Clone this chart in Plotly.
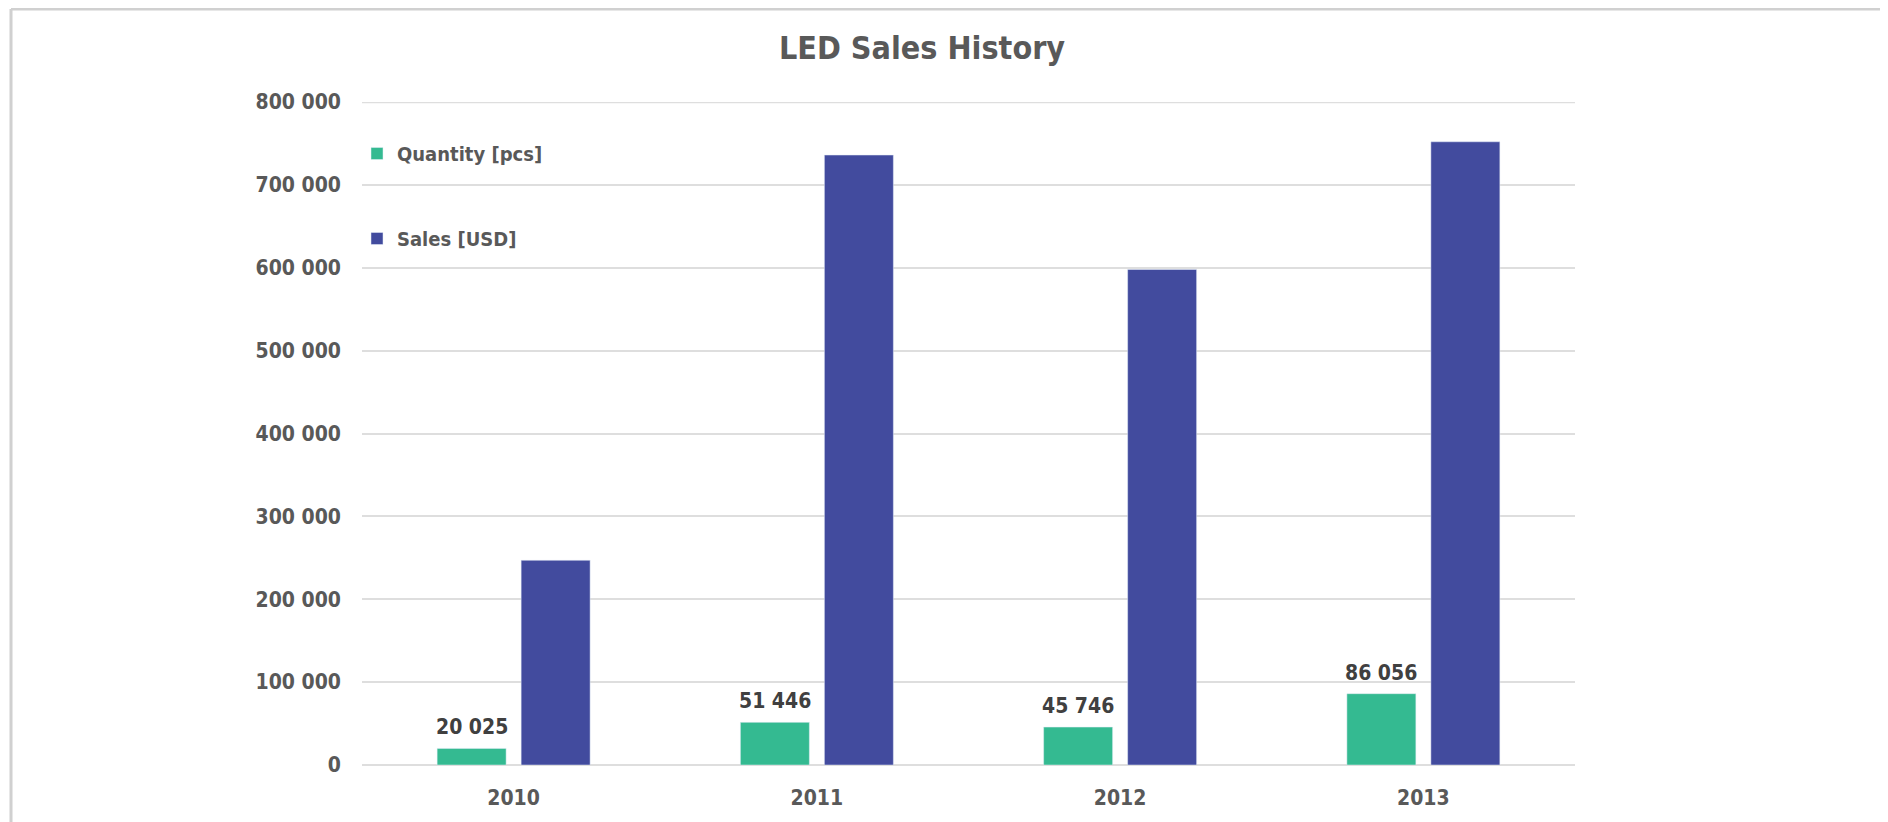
import plotly.graph_objects as go

years = ["2010", "2011", "2012", "2013"]
quantity = [20025, 51446, 45746, 86056]
sales = [247000, 736000, 598000, 752000]
y_ticks = [0, 100000, 200000, 300000, 400000, 500000, 600000, 700000, 800000]

# page body has an 8px margin, so the figure starts at (8, 8) in the window
W, H = 1880, 814
L, R, T, B = 354, 313, 94, 57
FONT = "DejaVu Sans Condensed, DejaVu Sans, Liberation Sans Narrow, sans-serif"
GREEN = "#34BA91"
BLUE = "#424B9E"
TXT = "#595959"
GRID = "#DEDEDE"

pw = W - L - R
ph = H - T - B
def px_x(x):
    return (x - L) / pw
def px_y(y):
    return (H - B - y) / ph

BARGAP = 0.446
cat_w = pw / len(years)
slot = cat_w * (1 - BARGAP) / 2

fig = go.Figure()
fig.add_trace(go.Bar(
    x=years, y=quantity, name="Quantity [pcs]", marker_color=GREEN,
    legendgroup="q",
))
fig.add_trace(go.Bar(
    x=years, y=sales, name="Sales [USD]", marker_color=BLUE,
    legendgroup="s",
))

annotations = []
for i, q in enumerate(quantity):
    annotations.append(dict(
        x=i, y=q, xref="x", yref="y", text=f"{q:,d}".replace(",", " "),
        showarrow=False, xanchor="center", yanchor="bottom",
        xshift=-slot / 2, yshift=7,
        font=dict(family=FONT, size=21, color="#404040", weight="bold"),
    ))

fig.update_layout(
    width=W, height=H,
    margin=dict(l=L, r=R, t=T, b=B, autoexpand=False),
    paper_bgcolor="white", plot_bgcolor="white",
    separators=", ",
    barmode="group", bargap=BARGAP, bargroupgap=0.179,
    title=dict(text="LED Sales History", x=914 / W, xanchor="center",
               y=1 - 40 / H, yanchor="middle", xref="container", yref="container",
               font=dict(family=FONT, size=32, color=TXT, weight="bold")),
    font=dict(family=FONT, color=TXT),
    showlegend=True,
    legend=dict(x=px_x(349), y=px_y(126), xanchor="left", yanchor="top",
                bgcolor="rgba(0,0,0,0)", tracegroupgap=56,
                font=dict(family=FONT, size=20, color=TXT, weight="bold"),
                itemwidth=30),
    xaxis=dict(type="category", categoryorder="array", categoryarray=years,
               range=[-0.5, len(years) - 0.5],
               showgrid=False, showline=False, ticks="", zeroline=False,
               tickfont=dict(family=FONT, size=21, color=TXT, weight="bold"),
               ticklabelstandoff=18),
    yaxis=dict(range=[0, y_ticks[-1]], tickvals=y_ticks, tickformat=",d",
               showgrid=True, gridcolor=GRID, gridwidth=1.5,
               zeroline=True, zerolinecolor=GRID, zerolinewidth=1.5,
               showline=False, ticks="",
               tickfont=dict(family=FONT, size=21, color=TXT, weight="bold"),
               ticklabelstandoff=20),
    annotations=annotations,
    shapes=[
        dict(type="line", xref="paper", yref="y", layer="below",
             x0=0, x1=1, y0=y_ticks[-1], y1=y_ticks[-1],
             line=dict(color=GRID, width=2.5)),
        dict(type="line", xref="paper", yref="paper",
             x0=px_x(3), x1=px_x(W + 5), y0=px_y(1), y1=px_y(1),
             line=dict(color="#D0D0D0", width=3)),
        dict(type="line", xref="paper", yref="paper",
             x0=px_x(3), x1=px_x(3), y0=px_y(1), y1=px_y(H + 5),
             line=dict(color="#D0D0D0", width=3)),
    ],
)

fig.write_html("out.html")
